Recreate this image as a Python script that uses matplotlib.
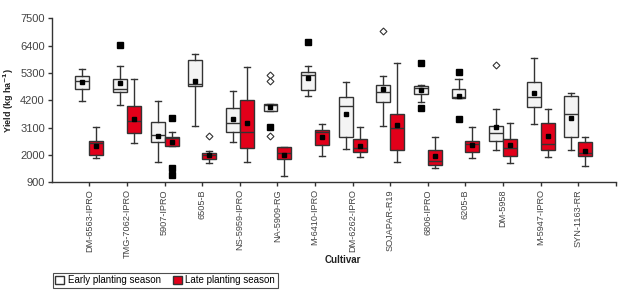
import matplotlib
matplotlib.use("Agg")
import matplotlib.pyplot as plt
from matplotlib.patches import Patch

plt.rcParams['font.family'] = ['Liberation Sans', 'DejaVu Sans']

cultivars = ['DM-6563-IPRO', 'TMG-7062-IPRO', '5907-IPRO', '6505-B', 'NS-5959-IPRO',
             'NA-5909-RG', 'M-6410-IPRO', 'DM-6262-IPRO', 'SOJAPAR-R19', '6806-IPRO',
             '6205-B', 'DM-5958', 'M-5947-IPRO', 'SYN-1163-RR']

# early planting season
early_whishi = [5460, 5569, 4172, 6052, 4588, 4052, 5569, 4925, 5179, 4804, 5071, 3864, 5903, 4482]
early_q3 = [5192, 5045, 3341, 5836, 3891, 4052, 5340, 4321, 4804, 4764, 4668, 3180, 4951, 4375]
early_med = [4978, 4643, 2800, 4857, 3275, 4000, 5207, 3984, 4535, 4700, 4321, 2884, 4347, 3649]
early_mean = [4950, 4897, 2770, 4978, 3436, 3944, 5098, 3662, 4656, 4615, 4387, 3126, 4495, 3501]
early_q1 = [4643, 4547, 2510, 4776, 2912, 3758, 4603, 2711, 4120, 4442, 4281, 2550, 3919, 2711]
early_whislo = [4172, 4000, 1700, 3166, 2510, 3758, 4362, 2228, 3180, 4146, 4281, 2188, 3247, 2188]

# late planting season
late_whishi = [3114, 5045, 2937, 2173, 5541, 2309, 3234, 3114, 5690, 2711, 3114, 3275, 3838, 2711]
late_q3 = [2575, 3972, 2735, 2067, 4213, 2309, 3005, 2655, 3661, 2213, 2575, 2644, 3301, 2510]
late_med = [2470, 3367, 2700, 1990, 2912, 2067, 2937, 2293, 3086, 1757, 2420, 2293, 2443, 2090]
late_mean = [2374, 3461, 2510, 1987, 3275, 2011, 2735, 2360, 3194, 1959, 2413, 2389, 2752, 2148]
late_q1 = [2011, 2884, 2349, 1850, 2268, 1826, 2413, 2132, 2188, 1584, 2132, 1959, 2188, 1971]
late_whislo = [1890, 2482, 2349, 1665, 1729, 1154, 1971, 1931, 1705, 1476, 1890, 1689, 1931, 1569]

# outliers: cultivar index, season (0 early, 1 late), value
extreme_idx = [1, 2, 2, 2, 5, 6, 9, 9, 10, 10]
extreme_season = [0, 1, 1, 1, 0, 0, 0, 0, 0, 0]
extreme_val = [6440, 3476, 1464, 1206, 3126, 6535, 5702, 3903, 5340, 3436]
outlier_idx = [3, 5, 5, 5, 8, 11]
outlier_season = [1, 0, 0, 0, 0, 0]
outlier_val = [2776, 5232, 4990, 2776, 7002, 5622]

yticks = [900, 2000, 3100, 4200, 5300, 6400, 7500]

red = '#e2001a'
edge = '#333333'
off = 0.185
w = 0.37

fig = plt.figure(figsize=(6.24, 2.92), dpi=100)
ax = fig.add_axes([0.083, 0.376, 0.904, 0.561])


def stats(whislo, q1, med, q3, whishi, mean):
    return [dict(whislo=a, q1=b, med=c, q3=d, whishi=e, mean=f, fliers=[])
            for a, b, c, d, e, f in zip(whislo, q1, med, q3, whishi, mean)]


pos = list(range(1, len(cultivars) + 1))
for vals, shift, fc in [((early_whislo, early_q1, early_med, early_q3, early_whishi, early_mean), -off, '#f4f4f4'),
                        ((late_whislo, late_q1, late_med, late_q3, late_whishi, late_mean), off, red)]:
    ax.bxp(stats(*vals), positions=[p + shift for p in pos], widths=w, capwidths=0.16,
           patch_artist=True, showmeans=True, showfliers=False,
           boxprops=dict(facecolor=fc, edgecolor=edge, linewidth=1.0),
           medianprops=dict(color=edge, linewidth=1.0),
           whiskerprops=dict(color=edge, linewidth=1.0),
           capprops=dict(color=edge, linewidth=1.0),
           meanprops=dict(marker='s', markerfacecolor='black', markeredgecolor='black', markersize=2.8))

ex_x = [i + 1 + (off if s else -off) for i, s in zip(extreme_idx, extreme_season)]
ax.plot(ex_x, extreme_val, 's', color='black', markersize=4, linestyle='none')
ou_x = [i + 1 + (off if s else -off) for i, s in zip(outlier_idx, outlier_season)]
ax.plot(ou_x, outlier_val, 'D', markerfacecolor='white', markeredgecolor=edge,
        markeredgewidth=0.8, markersize=3.5, linestyle='none')

ax.set_xlim(0, 15)
ax.set_ylim(900, 7500)
ax.set_yticks(yticks)
ax.set_yticklabels([str(v) for v in yticks], fontsize=8, color='#444444')
ax.set_xticks(pos + [15])
ax.set_xticklabels(cultivars + [''], rotation=90, fontsize=6.6, color='#444444')
ax.tick_params(axis='both', color=edge, length=3, width=1, pad=2)
for s in ['top', 'right']:
    ax.spines[s].set_visible(False)
for s in ['left', 'bottom']:
    ax.spines[s].set_color(edge)
    ax.spines[s].set_linewidth(1.0)

ax.set_ylabel('Yield (kg ha$^{\\mathbf{-1}}$)', fontsize=6.5, fontweight='bold', color='#222222', labelpad=3)
fig.text(0.55, 0.11, 'Cultivar', fontsize=7, fontweight='bold', color='#222222', ha='center', va='center')

handles = [Patch(facecolor='white', edgecolor=edge, label='Early planting season'),
           Patch(facecolor=red, edgecolor=edge, label='Late planting season')]
leg = fig.legend(handles=handles, loc='lower left', bbox_to_anchor=(0.085, 0.014), ncol=2,
                 fontsize=7, frameon=True, fancybox=False, edgecolor='#222222',
                 handlelength=0.9, handleheight=0.9, handletextpad=0.4, columnspacing=1.2,
                 borderpad=0.25, borderaxespad=0)
leg.get_frame().set_linewidth(0.8)

fig.savefig('out.png', dpi=100)
